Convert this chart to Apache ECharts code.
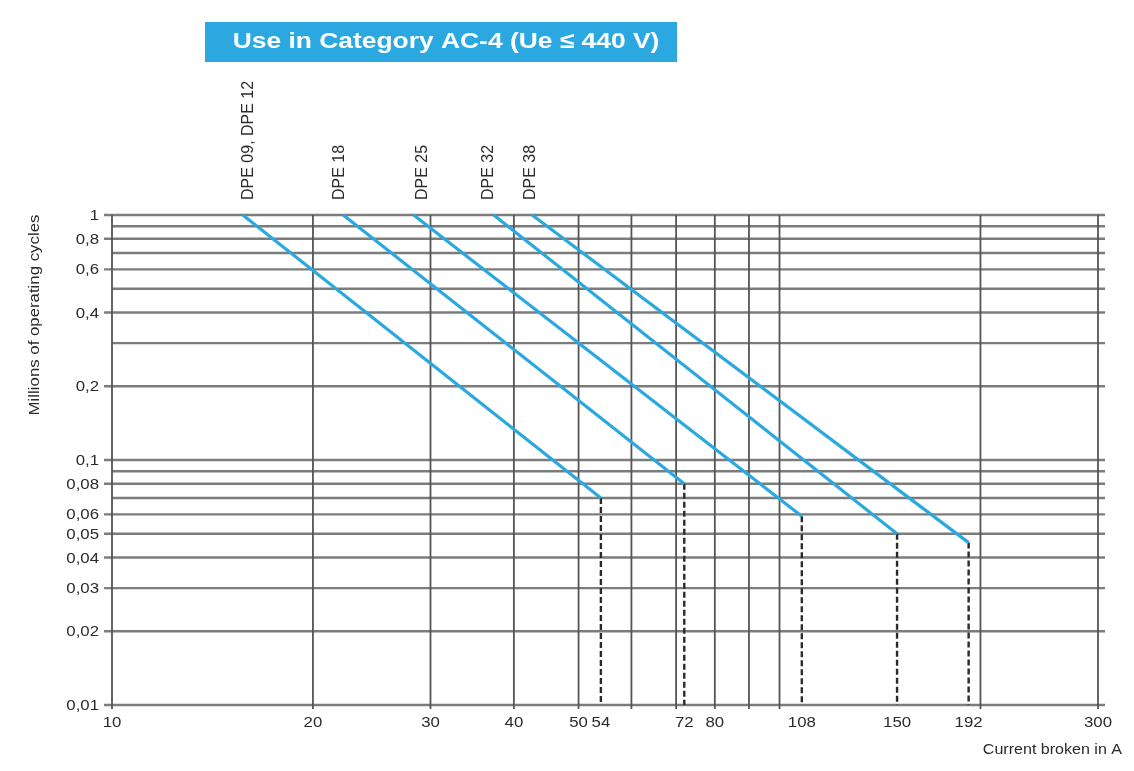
<!DOCTYPE html>
<html><head><meta charset="utf-8">
<script src="https://cdn.jsdelivr.net/npm/echarts@6/dist/echarts.min.js"></script>
<style>html,body{margin:0;padding:0;background:#fff}#c{width:1134px;height:771px}</style>
</head><body><div id="c"></div>
<script>
// ---- data ----
const titleText = 'Use in Category AC-4 (Ue ≤ 440 V)';
const xName = 'Current broken in A';
const yName = 'Millions of operating cycles';
const xGrid = [10, 20, 30, 40, 50, 60, 70, 80, 90, 100, 200, 300];
const xTicks = [10, 20, 30, 40, 50, 54, 72, 80, 108, 150, 192, 300];
const yGrid = [1, 0.9, 0.8, 0.7, 0.6, 0.5, 0.4, 0.3, 0.2, 0.1, 0.09, 0.08, 0.07, 0.06, 0.05, 0.04, 0.03, 0.02, 0.01];
const yTicks = [1, 0.8, 0.6, 0.4, 0.2, 0.1, 0.08, 0.06, 0.05, 0.04, 0.03, 0.02, 0.01];
const models = ['DPE 09, DPE 12', 'DPE 18', 'DPE 25', 'DPE 32', 'DPE 38'];
const startCurrent = [15.7, 22.2, 28.3, 37.3, 42.6];
const startCycles = [1, 1, 1, 1, 1];
const endCurrent = [54, 72, 108, 150, 192];
const endCycles = [0.07, 0.08, 0.059, 0.05, 0.046];

// ---- styling ----
const FONT = '"Liberation Sans", Arial, Helvetica, sans-serif';
const TXT = '#2b2b2b';
const BLUE = '#2BA8E0';
const X_MIN = 10, X_MAX = 300, Y_MIN = 0.01, Y_MAX = 1;
const labelDx = [6, -4, 9, -5, -2];
const fmt = v => String(v).replace('.', ',');

const chart = echarts.init(document.getElementById('c'), null, { renderer: 'canvas' });

const series = [];

// horizontal grid lines + y tick labels
series.push({
  type: 'custom', coordinateSystem: 'cartesian2d', clip: false, z: 1, silent: true,
  data: yGrid.map(v => [X_MIN, v]),
  renderItem: function (params, api) {
    const v = api.value(1);
    const p1 = api.coord([X_MIN, v]);
    const p2 = api.coord([X_MAX, v]);
    const labeled = yTicks.indexOf(v) >= 0;
    const children = [{
      type: 'line',
      shape: { x1: labeled ? p1[0] - 8 : p1[0], y1: p1[1], x2: p2[0] + 7, y2: p2[1] },
      style: { stroke: '#7c7c7c', lineWidth: 2.4 }
    }];
    if (labeled) {
      children.push({
        type: 'text', x: p1[0] - 13, y: p1[1] + 1, scaleX: 1.12,
        style: { text: fmt(v), font: '15px ' + FONT, fill: TXT, align: 'right', verticalAlign: 'middle' }
      });
    }
    return { type: 'group', children };
  }
});

// vertical grid lines
series.push({
  type: 'custom', coordinateSystem: 'cartesian2d', clip: false, z: 2, silent: true,
  data: xGrid.map(v => [v, Y_MIN]),
  renderItem: function (params, api) {
    const v = api.value(0);
    const pb = api.coord([v, Y_MIN]);
    const pt = api.coord([v, Y_MAX]);
    return {
      type: 'line',
      shape: { x1: pb[0], y1: pt[1], x2: pb[0], y2: pb[1] + 4 },
      style: { stroke: '#555555', lineWidth: 1.8 }
    };
  }
});

// x tick labels
series.push({
  type: 'custom', coordinateSystem: 'cartesian2d', clip: false, z: 2, silent: true,
  data: xTicks.map(v => [v, Y_MIN]),
  renderItem: function (params, api) {
    const v = api.value(0);
    const p = api.coord([v, Y_MIN]);
    return {
      type: 'text', x: p[0], y: p[1] + 18, scaleX: 1.12,
      style: { text: String(v), font: '15px ' + FONT, fill: TXT, align: 'center', verticalAlign: 'middle' }
    };
  }
});

// dashed drop lines
models.forEach((m, i) => {
  series.push({
    type: 'line', name: m + ' drop', z: 3, silent: true, symbol: 'none',
    data: [[endCurrent[i], endCycles[i]], [endCurrent[i], Y_MIN]],
    lineStyle: { color: '#2a2a2a', width: 2.4, type: [6, 3] }
  });
});

// blue curves
models.forEach((m, i) => {
  series.push({
    type: 'line', name: m, z: 4, silent: true, symbol: 'none',
    data: [[startCurrent[i], startCycles[i]], [endCurrent[i], endCycles[i]]],
    lineStyle: { color: BLUE, width: 3.2 }
  });
});

// model labels (rotated, above the line starts)
series.push({
  type: 'custom', coordinateSystem: 'cartesian2d', clip: false, z: 5, silent: true,
  data: models.map((m, i) => [startCurrent[i], startCycles[i]]),
  renderItem: function (params, api) {
    const i = params.dataIndex;
    const p = api.coord([api.value(0), api.value(1)]);
    return {
      type: 'text', x: p[0] + labelDx[i], y: p[1] - 15, rotation: Math.PI / 2,
      style: { text: models[i], font: '16px ' + FONT, fill: TXT, align: 'left', verticalAlign: 'middle' }
    };
  }
});

const option = {
  animation: false,
  backgroundColor: '#ffffff',
  grid: { left: 112, right: 36, top: 215, bottom: 66, containLabel: false },
  xAxis: {
    type: 'log', logBase: 10, min: X_MIN, max: X_MAX,
    axisLine: { show: false }, axisTick: { show: false }, axisLabel: { show: false }, splitLine: { show: false }
  },
  yAxis: {
    type: 'log', logBase: 10, min: Y_MIN, max: Y_MAX,
    axisLine: { show: false }, axisTick: { show: false }, axisLabel: { show: false }, splitLine: { show: false }
  },
  graphic: [
    { type: 'rect', shape: { x: 205, y: 22, width: 472, height: 40 }, style: { fill: BLUE }, z: 10 },
    { type: 'text', x: 446, y: 42, scaleX: 1.2, z: 11,
      style: { text: titleText, font: 'bold 22px ' + FONT, fill: '#ffffff', align: 'center', verticalAlign: 'middle' } },
    { type: 'text', x: 35, y: 315, rotation: Math.PI / 2, scaleX: 1.12, z: 11,
      style: { text: yName, font: '15px ' + FONT, fill: TXT, align: 'center', verticalAlign: 'middle' } },
    { type: 'text', x: 1122, y: 750, scaleX: 1.07, z: 11,
      style: { text: xName, font: '15px ' + FONT, fill: TXT, align: 'right', verticalAlign: 'middle' } }
  ],
  series: series
};
chart.setOption(option);
</script>
</body></html>
